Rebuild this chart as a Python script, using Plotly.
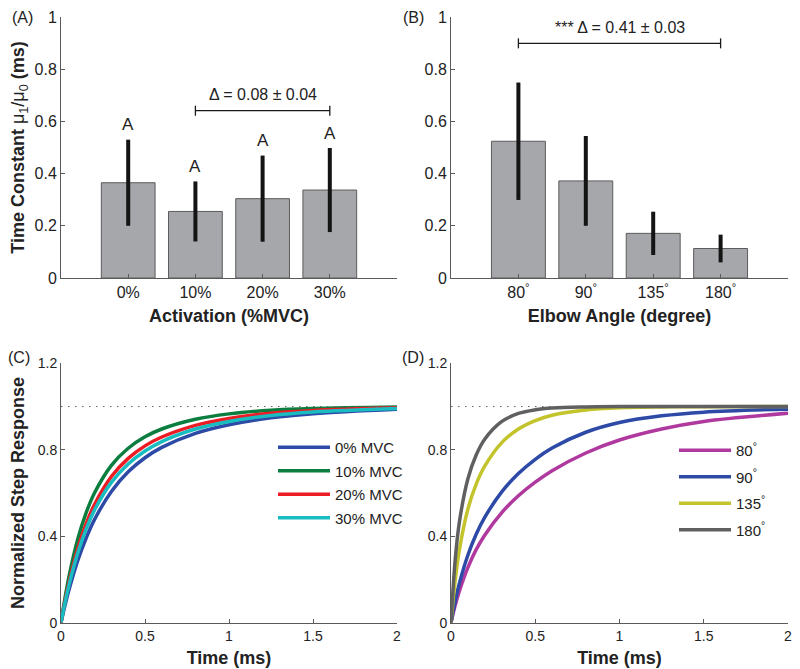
import plotly.graph_objects as go

# ---------------- data ----------------
act_categories = ["0%", "10%", "20%", "30%"]
act_means = [0.365, 0.255, 0.304, 0.337]
act_err = [0.165, 0.115, 0.165, 0.161]
act_letters = ["A", "A", "A", "A"]

ang_categories = ["80", "90", "135", "180"]
ang_means = [0.524, 0.372, 0.171, 0.113]
ang_err = [0.225, 0.172, 0.083, 0.053]
ang_letters = ["A", "B", "C", "D"]

bracket_A = ("10%", "30%", 0.641, "Δ = 0.08 ± 0.04")
bracket_B = ("80", "180", 0.899, "*** Δ = 0.41 ± 0.03")

time_ms = [0, 0.025, 0.05, 0.1, 0.15, 0.2, 0.3, 0.4, 0.5, 0.6, 0.8, 1.0, 1.25, 1.5, 2.0]

act_names = ["0% MVC", "10% MVC", "20% MVC", "30% MVC"]
act_resp = [
    [0, 0.084, 0.159, 0.288, 0.392, 0.478, 0.607, 0.698, 0.763, 0.811, 0.876, 0.916, 0.948, 0.967, 0.987],
    [0, 0.120, 0.223, 0.387, 0.509, 0.601, 0.728, 0.807, 0.860, 0.896, 0.941, 0.966, 0.983, 0.991, 0.998],
    [0, 0.104, 0.194, 0.343, 0.458, 0.548, 0.676, 0.760, 0.818, 0.859, 0.913, 0.945, 0.969, 0.982, 0.994],
    [0, 0.097, 0.182, 0.323, 0.434, 0.522, 0.649, 0.734, 0.794, 0.838, 0.896, 0.931, 0.959, 0.975, 0.991],
]
ang_resp = [
    [0, 0.080, 0.147, 0.255, 0.339, 0.405, 0.508, 0.587, 0.650, 0.703, 0.785, 0.845, 0.896, 0.931, 0.969],
    [0, 0.100, 0.183, 0.312, 0.410, 0.487, 0.604, 0.690, 0.756, 0.808, 0.881, 0.926, 0.957, 0.974, 0.988],
    [0, 0.197, 0.338, 0.525, 0.642, 0.724, 0.832, 0.896, 0.935, 0.960, 0.984, 0.994, 0.998, 0.999, 1.000],
    [0, 0.292, 0.467, 0.665, 0.777, 0.849, 0.930, 0.968, 0.985, 0.993, 0.998, 1.000, 1.000, 1.000, 1.000],
]
steady_state = 1.0

act_colors = ["#2c4aa6", "#0b7d3e", "#ec1c24", "#19bcc0"]
ang_colors = ["#b0399f", "#2c4aa6", "#c3c32b", "#606060"]

# ---------------- styling ----------------
FONT = "Liberation Sans, Arial, sans-serif"
AX = "#5a5a5a"
TXT = "#222222"
OFF = 8            # page body margin
W, H = 800 - OFF, 669 - OFF

def px_x(p):
    return (p - OFF) / W

def px_y(p):
    return 1 - (p - OFF) / H

fig = go.Figure()

# bars
fig.add_trace(go.Bar(
    x=act_categories, y=act_means, width=0.8,
    marker=dict(color="#a6a7ab", line=dict(color="#5c5c5c", width=1)),
    error_y=dict(type="data", array=act_err, color="#141414", thickness=4, width=0),
    xaxis="x", yaxis="y", showlegend=False))
fig.add_trace(go.Bar(
    x=ang_categories, y=ang_means, width=0.8,
    marker=dict(color="#a6a7ab", line=dict(color="#5c5c5c", width=1)),
    error_y=dict(type="data", array=ang_err, color="#141414", thickness=4, width=0),
    xaxis="x2", yaxis="y2", showlegend=False))

# step responses
for name, ys, c in zip(act_names, act_resp, act_colors):
    fig.add_trace(go.Scatter(x=time_ms, y=ys, mode="lines", name=name,
                             line=dict(color=c, width=3.5, shape="spline"),
                             xaxis="x3", yaxis="y3", legend="legend",
                             legendgroup=name))
for name, ys, c in zip(ang_categories, ang_resp, ang_colors):
    fig.add_trace(go.Scatter(x=time_ms, y=ys, mode="lines", name=name + "<sup>°</sup>",
                             line=dict(color=c, width=3.5, shape="spline"),
                             xaxis="x4", yaxis="y4", legend="legend2",
                             legendgroup=name))

annotations = []
shapes = []

# letters above error bars
for cats, means, errs, letters, xr, yr in [
    (act_categories, act_means, act_err, act_letters, "x", "y"),
    (ang_categories, ang_means, ang_err, ang_letters, "x2", "y2"),
]:
    for c, m, e, L in zip(cats, means, errs, letters):
        annotations.append(dict(x=c, y=m + e, xref=xr, yref=yr, text=L, showarrow=False,
                                yanchor="middle", yshift=15,
                                font=dict(family=FONT, size=17, color=TXT)))

# significance brackets
for (c0, c1, yv, label), cats, xr, yr in [
    (bracket_A, act_categories, "x", "y"),
    (bracket_B, ang_categories, "x2", "y2"),
]:
    i0, i1 = cats.index(c0), cats.index(c1)
    shapes.append(dict(type="line", xref=xr, yref=yr, x0=i0, x1=i1, y0=yv, y1=yv,
                       line=dict(color="#1a1a1a", width=1.3)))
    for i in (i0, i1):
        shapes.append(dict(type="line", xref=xr, yref=yr, x0=i, x1=i,
                           ysizemode="pixel", yanchor=yv, y0=-5, y1=5,
                           line=dict(color="#1a1a1a", width=1.3)))
    annotations.append(dict(x=(i0 + i1) / 2, y=yv, xref=xr, yref=yr, text=label,
                            showarrow=False, yanchor="middle", yshift=16,
                            font=dict(family=FONT, size=16, color=TXT)))

# steady-state dotted line
for xr, yr in [("x3", "y3"), ("x4", "y4")]:
    shapes.append(dict(type="line", xref=xr, yref=yr, x0=time_ms[0], x1=time_ms[-1],
                       y0=steady_state, y1=steady_state,
                       line=dict(color="#666666", width=1, dash="1.5px,5.5px")))

# panel labels
for lab, x, y in [("(A)", 22, 17), ("(B)", 413, 17), ("(C)", 19, 358), ("(D)", 413, 358)]:
    annotations.append(dict(x=px_x(x), y=px_y(y), xref="paper", yref="paper", text=lab,
                            showarrow=False, xanchor="center", yanchor="middle",
                            font=dict(family=FONT, size=16, color=TXT)))

dom_x_left = [px_x(61), px_x(397)]
dom_x_right = [px_x(451), px_x(788)]
dom_y_top = [px_y(278), px_y(17)]
dom_y_bot = [px_y(622.7), px_y(363.3)]

def axis_common(fs):
    return dict(showline=True, linecolor=AX, linewidth=1, ticks="inside", ticklen=4,
                tickcolor=AX, showgrid=False, zeroline=False, mirror=False,
                tickfont=dict(family=FONT, size=fs, color=TXT), automargin=False)

title_font = dict(family=FONT, size=18, color=TXT)

fig.update_layout(
    width=W, height=H, margin=dict(l=0, r=0, t=0, b=0),
    paper_bgcolor="white", plot_bgcolor="white",
    font=dict(family=FONT, color=TXT),
    xaxis=dict(domain=dom_x_left, anchor="y", range=[-1, 4], type="category",
               title=dict(text="<b>Activation (%MVC)</b>", font=title_font, standoff=9),
               **axis_common(16)),
    yaxis=dict(domain=dom_y_top, anchor="x", range=[0, 1], tickvals=[0, 0.2, 0.4, 0.6, 0.8, 1],
               title=dict(text="<b>Time Constant </b>μ<sub>1</sub>/μ<sub>0</sub><b> (ms)</b>",
                          font=title_font, standoff=9),
               **axis_common(16)),
    xaxis2=dict(domain=dom_x_right, anchor="y2", range=[-1, 4], type="category",
                tickvals=ang_categories, ticktext=[a + "<sup>°</sup>" for a in ang_categories],
                title=dict(text="<b>Elbow Angle (degree)</b>", font=title_font, standoff=9),
                **axis_common(16)),
    yaxis2=dict(domain=dom_y_top, anchor="x2", range=[0, 1], tickvals=[0, 0.2, 0.4, 0.6, 0.8, 1],
                **axis_common(16)),
    xaxis3=dict(domain=dom_x_left, anchor="y3", range=[0, 2], tickvals=[0, 0.5, 1, 1.5, 2],
                title=dict(text="<b>Time (ms)</b>", font=title_font, standoff=8),
                **axis_common(14)),
    yaxis3=dict(domain=dom_y_bot, anchor="x3", range=[0, 1.2], tickvals=[0, 0.4, 0.8, 1.2],
                title=dict(text="<b>Normalized Step Response</b>", font=title_font, standoff=10),
                **axis_common(14)),
    xaxis4=dict(domain=dom_x_right, anchor="y4", range=[0, 2], tickvals=[0, 0.5, 1, 1.5, 2],
                title=dict(text="<b>Time (ms)</b>", font=title_font, standoff=8),
                **axis_common(14)),
    yaxis4=dict(domain=dom_y_bot, anchor="x4", range=[0, 1.2], tickvals=[0, 0.4, 0.8, 1.2],
                **axis_common(14)),
    legend=dict(x=px_x(273), y=px_y(431), xanchor="left", yanchor="top",
                bgcolor="rgba(0,0,0,0)", borderwidth=0, itemwidth=52,
                tracegroupgap=1, font=dict(family=FONT, size=15, color=TXT)),
    legend2=dict(x=px_x(674), y=px_y(434), xanchor="left", yanchor="top",
                 bgcolor="rgba(0,0,0,0)", borderwidth=0, itemwidth=52,
                 tracegroupgap=4, font=dict(family=FONT, size=15, color=TXT)),
    annotations=annotations,
    shapes=shapes,
)

fig.write_html("out.html")
